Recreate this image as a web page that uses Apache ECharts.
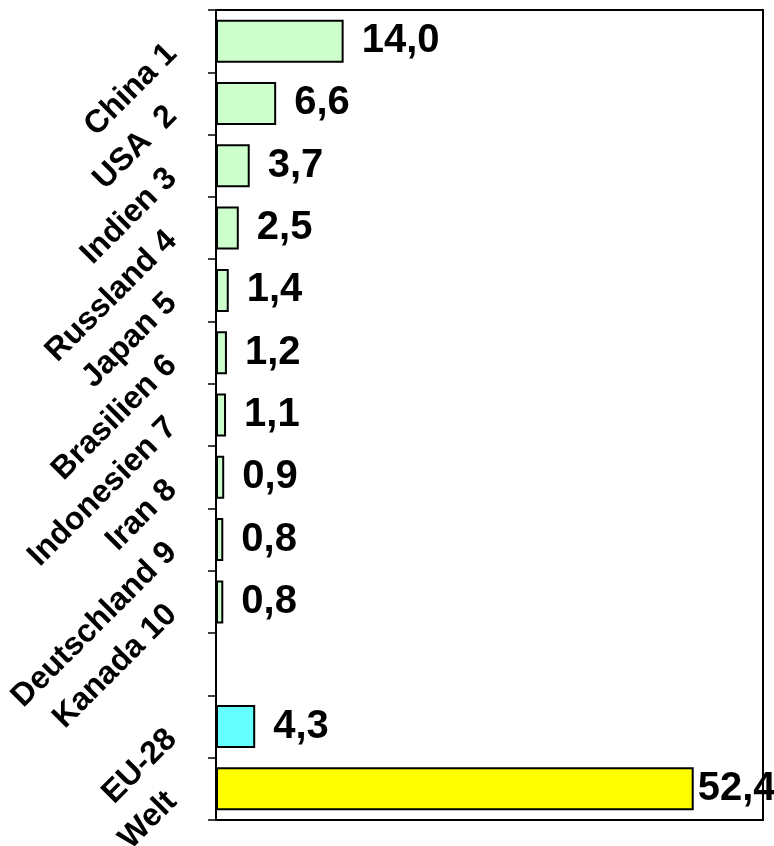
<!DOCTYPE html>
<html>
<head>
<meta charset="utf-8">
<script src="https://cdn.jsdelivr.net/npm/echarts@6/dist/echarts.min.js"></script>
<style>
html,body{margin:0;padding:0;background:#fff;}
#chart{width:774px;height:846px;}
</style>
</head>
<body>
<div id="chart"></div>
<script>
var categories = ['China 1', 'USA  2', 'Indien 3', 'Russland 4', 'Japan 5', 'Brasilien 6', 'Indonesien 7', 'Iran 8', 'Deutschland 9', 'Kanada 10', '', 'EU-28', 'Welt'];
var values = [14.0, 6.6, 3.7, 2.5, 1.4, 1.2, 1.1, 0.9, 0.8, 0.8, null, 4.3, 52.4];
var colors = ['#CCFFCC', '#CCFFCC', '#CCFFCC', '#CCFFCC', '#CCFFCC', '#CCFFCC', '#CCFFCC', '#CCFFCC', '#CCFFCC', '#CCFFCC', '#CCFFCC', '#66FFFF', '#FFFF00'];
var labelDistances = [18, 18, 18, 18, 18, 18, 18, 18, 18, 18, 18, 18, 4];
var xMin = 0, xMax = 60;

var FONT = '"Liberation Sans", Arial, sans-serif';
var data = values.map(function (v, i) {
  return {
    value: v,
    itemStyle: { color: colors[i] },
    label: { distance: labelDistances[i] }
  };
});

var chart = echarts.init(document.getElementById('chart'));
chart.setOption({
  animation: false,
  grid: { left: 216, right: 11, top: 10, bottom: 26, outerBoundsMode: 'none', containLabel: false, show: true, borderColor: '#000', borderWidth: 2, backgroundColor: 'transparent' },
  xAxis: {
    type: 'value', min: xMin, max: xMax,
    axisLabel: { show: false }, axisTick: { show: false },
    splitLine: { show: false }, axisLine: { show: false }
  },
  yAxis: {
    type: 'category', data: categories, inverse: true,
    axisLine: { show: true, lineStyle: { color: '#000', width: 2 } },
    axisTick: { show: true, length: 8, lineStyle: { color: '#000', width: 1.5 } },
    axisLabel: {
      rotate: 45, margin: 52, verticalAlign: 'top', lineHeight: 22, color: '#000', fontFamily: FONT, fontWeight: 'bold', fontSize: 32
    }
  },
  series: [{
    type: 'bar', data: data, barCategoryGap: '31%',
    itemStyle: { borderColor: '#000', borderWidth: 2 },
    label: {
      show: true, position: 'right', color: '#000', fontFamily: FONT, fontWeight: 'bold', fontSize: 40,
      formatter: function (p) { return p.value == null ? '' : p.value.toFixed(1).replace('.', ','); }
    }
  }]
});
</script>
</body>
</html>
